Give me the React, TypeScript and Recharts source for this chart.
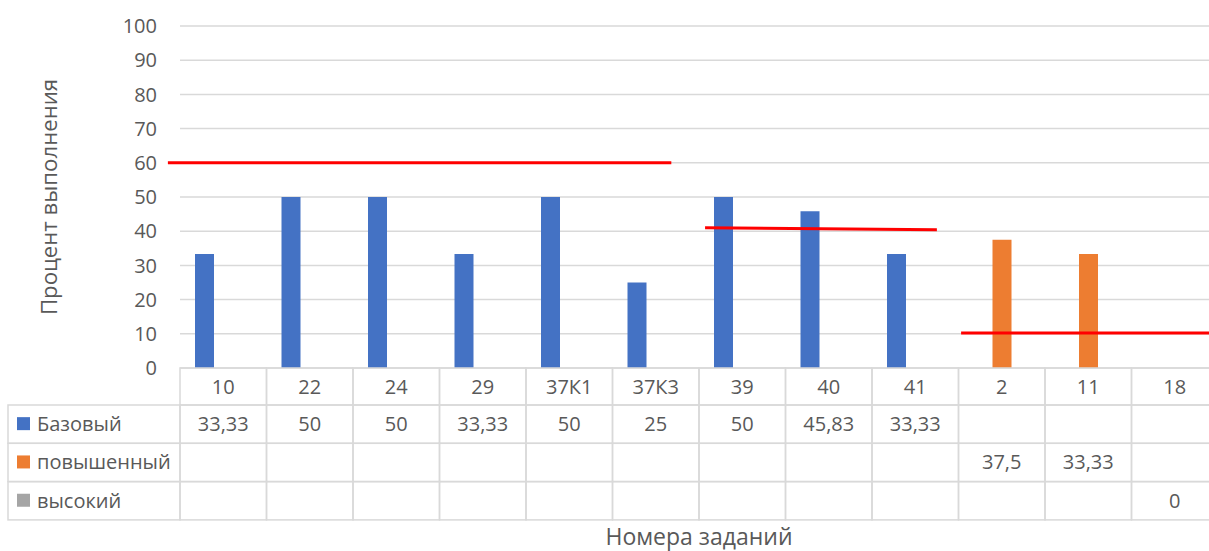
import { Bar, BarChart, CartesianGrid, Label, ReferenceLine, XAxis, YAxis } from 'recharts';

const categories = ['10', '22', '24', '29', '37К1', '37К3', '39', '40', '41', '2', '11', '18'];
const baseValues = [33.33, 50, 50, 33.33, 50, 25, 50, 45.83, 33.33, null, null, null];
const raisedValues = [null, null, null, null, null, null, null, null, null, 37.5, 33.33, null];
const highValues = [null, null, null, null, null, null, null, null, null, null, null, 0];
const yTicks = [0, 10, 20, 30, 40, 50, 60, 70, 80, 90, 100];

// red target lines, x in category-slot units (0 = left edge of first slot), y in percent
const targetLines = [
  [[-0.14, 60], [5.68, 60]],
  [[6.07, 41], [8.75, 40.4]],
  [[9.03, 10.2], [12.3, 10.2]],
];

const series = [
  { key: 'base', name: 'Базовый', color: '#4472C4', values: baseValues },
  { key: 'raised', name: 'повышенный', color: '#ED7D31', values: raisedValues },
  { key: 'high', name: 'высокий', color: '#A5A5A5', values: highValues },
];

const data = categories.map((name, i) => ({
  name,
  slot: i,
  base: baseValues[i],
  raised: raisedValues[i],
  high: highValues[i],
}));

const TEXT = '#595959';
const LINE = '#d9d9d9';
const FONT = '"Open Sans", sans-serif';

const CHART_W = 1230;
const PLOT_LEFT = 180;
const PLOT_RIGHT = 1218;
const BAND = (PLOT_RIGHT - PLOT_LEFT) / categories.length;
const CAT_ROW = 37;
const ROW = 38.3;
const LEGEND_LEFT = 8;

const fmt = (v) => (v === null || v === undefined ? '' : String(v).replace('.', ','));

function TableTick({ x, y, payload }) {
  const i = payload.index;
  const left = x - BAND / 2;
  const rows = series.map((s, r) => {
    const top = y + CAT_ROW + r * ROW;
    return (
      <g key={s.key}>
        <rect x={left} y={top} width={BAND} height={ROW} fill="none" stroke={LINE} strokeWidth={1.5} />
        <text x={x} y={top + ROW / 2} dy="0.35em" textAnchor="middle" fill={TEXT} fontSize={20} fontFamily={FONT}>
          {fmt(s.values[i])}
        </text>
        {i === 0 && (
          <g>
            <rect x={LEGEND_LEFT} y={top} width={left - LEGEND_LEFT} height={ROW} fill="none" stroke={LINE} strokeWidth={1.5} />
            <rect x={LEGEND_LEFT + 9} y={top + ROW / 2 - 7} width={13} height={13} fill={s.color} />
            <text x={LEGEND_LEFT + 29} y={top + ROW / 2} dy="0.35em" fill={TEXT} fontSize={20} fontFamily={FONT}>
              {s.name}
            </text>
          </g>
        )}
      </g>
    );
  });
  return (
    <g>
      <rect x={left} y={y} width={BAND} height={CAT_ROW} fill="none" stroke={LINE} strokeWidth={1.5} />
      <text x={x} y={y + CAT_ROW / 2} dy="0.35em" textAnchor="middle" fill={TEXT} fontSize={20} fontFamily={FONT}>
        {payload.value}
      </text>
      {rows}
    </g>
  );
}

function YTitle({ viewBox }) {
  const cy = viewBox.y + viewBox.height / 2;
  const cx = 49;
  return (
    <text x={cx} y={cy} transform={`rotate(-90 ${cx} ${cy})`} textAnchor="middle" dy="0.35em" fill={TEXT} fontSize={22.2} fontFamily={FONT}>
      Процент выполнения
    </text>
  );
}

export default function App() {
  return (
    <div style={{ position: 'absolute', left: 0, top: 0, width: 1209, height: 551, overflow: 'hidden', background: '#fff' }}>
      <BarChart
        width={CHART_W}
        height={551}
        data={data}
        margin={{ top: 26, right: CHART_W - PLOT_RIGHT, bottom: 0, left: 0 }}
        barSize={19}
        barGap={0}
      >
        <CartesianGrid vertical={false} stroke={LINE} strokeWidth={1.5} />
        <XAxis
          dataKey="name"
          height={183}
          interval={0}
          tickSize={0}
          tickMargin={0}
          axisLine={false}
          tickLine={false}
          tick={<TableTick />}
        >
          <Label value="Номера заданий" position="insideBottom" offset={6} fill={TEXT} fontSize={23} fontFamily={FONT} />
        </XAxis>
        <XAxis xAxisId="seg" dataKey="slot" type="number" domain={[0, categories.length]} allowDataOverflow hide />
        <YAxis
          width={PLOT_LEFT}
          domain={[0, 100]}
          ticks={yTicks}
          interval={0}
          tickSize={0}
          tickMargin={23}
          axisLine={false}
          tickLine={false}
          tick={{ fill: TEXT, fontSize: 20, fontFamily: FONT }}
        >
          <Label content={<YTitle />} />
        </YAxis>
        {series.map((s) => (
          <Bar key={s.key} dataKey={s.key} name={s.name} fill={s.color} isAnimationActive={false} />
        ))}
        {targetLines.map((seg, i) => (
          <ReferenceLine
            key={i}
            xAxisId="seg"
            segment={seg.map(([x, y]) => ({ x, y }))}
            stroke="#FF0000"
            strokeWidth={3}
            ifOverflow="visible"
          />
        ))}
      </BarChart>
    </div>
  );
}
